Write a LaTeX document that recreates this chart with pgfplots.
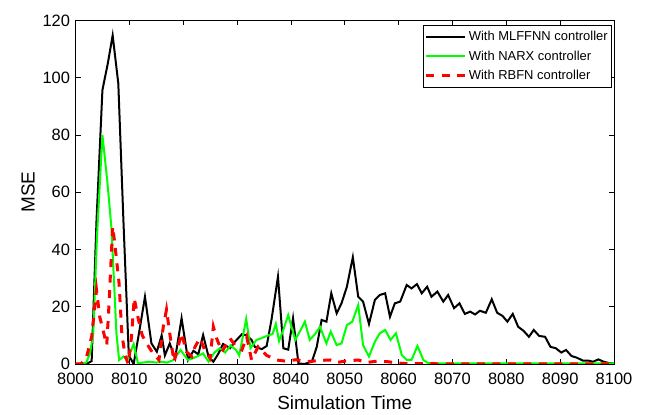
\documentclass[border=0pt]{standalone}
\usepackage{fontspec}
\setmainfont{Liberation Sans}
\usepackage{pgfplots}
\pgfplotsset{compat=1.18}
\definecolor{mgreen}{rgb}{0,1,0}
\definecolor{mred}{rgb}{1,0,0}
\begin{document}
\begin{tikzpicture}
\path[use as bounding box] (0,0) rectangle (646bp,415bp);
\begin{axis}[
  at={(75.5bp,51bp)}, anchor=south west,
  scale only axis, width=538.5bp, height=343.5bp,
  xmin=8000, xmax=8100, ymin=0, ymax=120,
  xtick={8000,8010,...,8100}, ytick={0,20,...,120},
  tick align=inside, major tick length=5bp,
  axis line style={line width=0.8bp},
  every tick/.style={line width=0.6bp, black},
  /pgf/number format/assume math mode=true,
  /pgf/number format/1000 sep={},
  tick label style={font=\fontsize{16.5}{18}\selectfont},
  yticklabel style={xshift=-2bp},
  xticklabel style={yshift=-6bp},
  xlabel={Simulation Time}, ylabel={MSE},
  label style={font=\fontsize{19}{22}\selectfont},
  xlabel style={yshift=-4bp},
  ylabel style={yshift=1bp},
  legend style={at={(1,1)}, anchor=north east, xshift=-2bp, yshift=-4.5bp,
    font=\fontsize{13}{15}\selectfont, draw=black, line width=0.6bp,
    inner xsep=2bp, inner ysep=4bp, row sep=4.5bp,
    cells={anchor=west}},
  legend image code/.code={\draw[#1] (0bp,0bp) -- (39bp,0bp);},
]
\addplot[black, line width=2bp] table {
8000 0
8001 0
8002 0
8003 1
8003.9 50
8005 95.7
8006 105
8006.9 114.8
8007.95 98
8008.9 50
8009.9 3
8010.8 0
8011.9 12
8012.9 23.5
8014.1 7.2
8015.1 4.3
8016 10
8016.6 3
8017.5 7.2
8018.5 2
8019.7 16
8020.9 1.4
8021.9 4.6
8022.8 3.4
8023.7 10.1
8024.7 2.6
8025.6 0.8
8026.5 3.5
8027.4 7
8028.7 5.5
8029.6 7.8
8030.9 10.4
8031.8 10
8032.7 8.4
8033.3 6
8034.6 5.2
8035.5 6.3
8036.4 15.5
8037.6 30.5
8038.6 5.5
8039.5 5
8040.4 16
8041.4 0.2
8042.5 0
8043.9 0.8
8044.8 6
8045.7 15.4
8046.6 14.8
8047.5 24.7
8048.5 17.7
8049.4 21.2
8050.4 27
8051.5 37.3
8052.5 23.5
8053.4 21.8
8054.5 14
8055.6 22.4
8056.5 24.1
8057.5 24.7
8058.4 16.5
8059.3 21.2
8060.3 21.8
8061.5 27.6
8062.4 26.4
8063.4 27.9
8064.3 24.7
8065.3 27
8066.1 23.5
8067.2 25.3
8068.3 21.8
8069.2 24.1
8070.3 19.5
8071.3 21.2
8072.3 17.5
8073.3 18.3
8074.2 17.3
8075.1 18.6
8076.2 17.9
8077.3 22.6
8078.3 17.9
8079.3 16.8
8080.2 14.8
8081.2 17.5
8082.2 13
8083.2 11.6
8084.2 9.5
8085.1 11.9
8086.1 9.8
8087.2 9.5
8088.2 6
8089.2 5.5
8090.2 4
8091.1 4.9
8092.1 2.8
8093.1 2.2
8094.2 1.2
8095.2 1.2
8096.1 0.8
8097.1 1.6
8098.1 0.8
8099.1 0.3
8100 0.2
};
\addlegendentry{With MLFFNN controller}
\addplot[mgreen, line width=2bp] table {
8000 0
8001 0
8002 0.5
8002.7 3.7
8003.3 10.7
8004 45
8005 80
8005.9 64
8006.7 47
8007.6 10.7
8008.1 1.4
8008.9 2.6
8009.6 1.4
8010.8 7
8011.6 0.3
8012.5 0.5
8013.8 0.8
8015 0.5
8016 0.8
8017 0.5
8018.2 1.4
8019.5 4.9
8020.9 1.4
8021.8 2
8022.5 2.6
8023.7 3.7
8024.7 0.8
8025.8 4
8026.8 5.5
8027.8 4
8028.8 6.5
8029.8 4.9
8030.4 3
8031.7 15.7
8032.5 5.5
8033.6 8.4
8034.5 9
8035.5 9.8
8036.6 10.5
8037.2 14
8037.8 8
8038.6 12
8039.5 17.1
8040.8 8.4
8041.7 11.5
8042.6 14.8
8043.5 8.4
8044.5 10.5
8045.4 13
8046.6 7.2
8047.4 11.3
8048.5 6.6
8049.4 7.2
8050.4 13.6
8051.4 14.8
8052.5 20.6
8053.4 6.6
8054.5 2.6
8055.6 7.8
8056.5 10.7
8057.5 11.9
8058.5 8.4
8059.5 10.7
8060.6 3.1
8061.5 1.4
8062.4 1.4
8063.5 6.3
8064.6 1.4
8065.5 0.3
8067 0.2
8070 0.2
8075 0.2
8080 0.2
8085 0.2
8090 0.2
8095 0.2
8100 0.2
};
\addlegendentry{With NARX controller}
\addplot[mred, line width=3bp, dash pattern=on 8bp off 7.5bp] table {
8000 0
8001 0
8002 2
8003 9.5
8003.9 25.9
8004.5 16.5
8005.8 6.6
8006.2 20
8006.9 48
8007.3 42
8008.1 28
8008.6 10.7
8009.2 3
8009.8 0
8010.4 9.5
8010.9 23
8011.7 15.4
8012.4 10
8013.2 7.2
8014.4 3.7
8015.5 1.4
8016.3 13
8016.9 19
8017.5 10.7
8018.3 0.8
8019.7 10.7
8020.6 4.3
8021.6 2.6
8022.2 6
8023.1 9
8024 4.9
8025 2
8025.6 13
8026.2 9
8027.2 4.3
8028.7 9
8029.8 6
8030.9 4.9
8031.8 9.5
8032.7 1.4
8033.9 6
8035.5 3
8037.4 1.4
8039 1
8041 1.5
8043 0.8
8045 1.2
8047.3 1.4
8048.5 0.5
8050 1
8052.5 1.4
8054 0.5
8056 1
8058 0.8
8060 0.3
8062 0.1
8100 0
};
\addlegendentry{With RBFN controller}
\end{axis}
\end{tikzpicture}
\end{document}
